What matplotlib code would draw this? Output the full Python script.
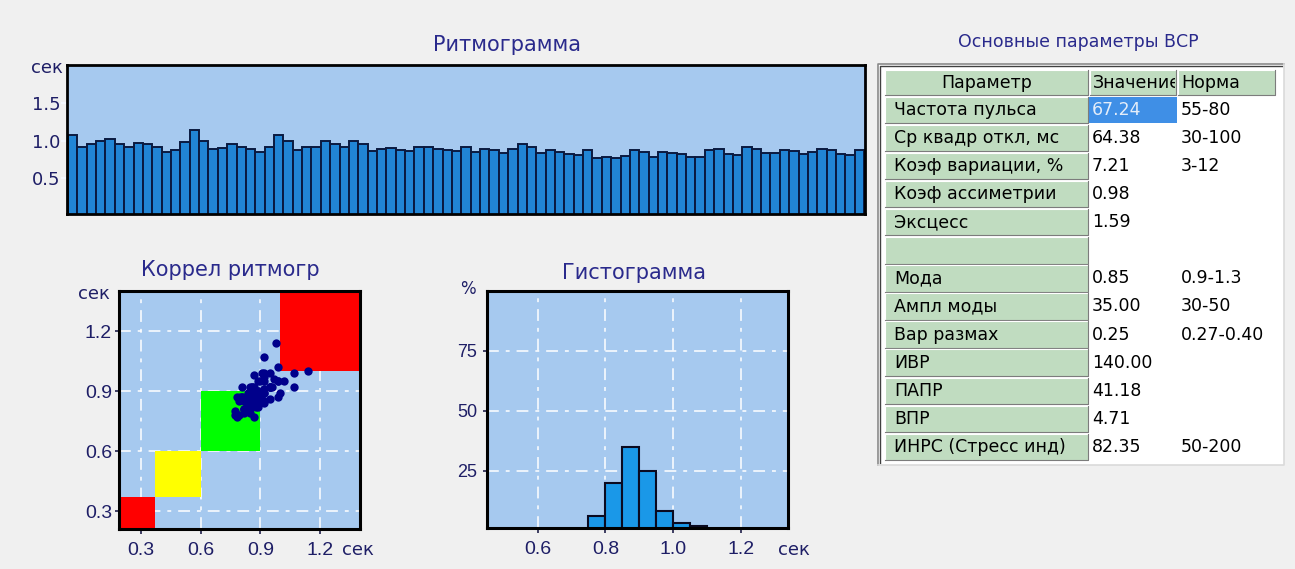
import matplotlib
matplotlib.use("Agg")
import matplotlib.pyplot as plt
from matplotlib.patches import Rectangle
from matplotlib.transforms import Bbox
import numpy as np

plt.rcParams['lines.scale_dashes'] = False

W, H, DPI = 1295, 569, 100

# ---------------- data ----------------
# RR intervals of the recording, seconds
rr_sec = [1.07, 0.92, 0.95, 0.99, 1.02, 0.95, 0.92, 0.97, 0.96, 0.92,
          0.85, 0.87, 0.98, 1.14, 1.00, 0.89, 0.90, 0.95, 0.92, 0.89,
          0.85, 0.92, 1.07, 0.99, 0.87, 0.92, 0.91, 0.99, 0.95, 0.92,
          0.99, 0.95, 0.86, 0.89, 0.90, 0.87, 0.86, 0.92, 0.91, 0.89,
          0.87, 0.86, 0.92, 0.85, 0.89, 0.88, 0.84, 0.89, 0.95, 0.92,
          0.84, 0.87, 0.85, 0.82, 0.81, 0.87, 0.77, 0.78, 0.77, 0.80,
          0.87, 0.85, 0.79, 0.85, 0.84, 0.82, 0.79, 0.78, 0.87, 0.89,
          0.82, 0.81, 0.92, 0.89, 0.84, 0.83, 0.87, 0.86, 0.82, 0.85,
          0.89, 0.88, 0.82, 0.81, 0.87]
rr_ticks = [0.5, 1.0, 1.5]

# correlation rhythmogram: zones on the diagonal
corr_ticks = [0.3, 0.6, 0.9, 1.2]
zone_lo = [0.0, 0.37, 0.6, 1.0]
zone_hi = [0.37, 0.6, 0.9, 2.0]
zone_colors = ['#ff0000', '#ffff00', '#00ff00', '#ff0000']

# histogram of RR intervals
hist_left = [0.75, 0.80, 0.85, 0.90, 0.95, 1.00, 1.05]
hist_pct = [6, 20, 35, 25, 8, 3, 2]
bin_width = 0.05
hist_xticks = [0.6, 0.8, 1.0, 1.2]
hist_yticks = [25, 50, 75]

# parameter table
table_header = ["Параметр", "Значение", "Норма"]
param_names = ["Частота пульса", "Ср квадр откл, мс", "Коэф вариации, %",
               "Коэф ассиметрии", "Эксцесс", "", "Мода", "Ампл моды",
               "Вар размах", "ИВР", "ПАПР", "ВПР", "ИНРС (Стресс инд)"]
param_values = ["67.24", "64.38", "7.21", "0.98", "1.59", "", "0.85", "35.00",
                "0.25", "140.00", "41.18", "4.71", "82.35"]
param_norms = ["55-80", "30-100", "3-12", "", "", "", "0.9-1.3", "30-50",
               "0.27-0.40", "", "", "", "50-200"]

# ---------------- style ----------------
FIG_BG = '#f0f0f0'
AX_BG = '#a6c9ef'
TITLE_C = '#2a2a8c'
TICK_C = '#1e1e66'
GREEN = '#c0dcc0'
SANS = 'DejaVu Sans'
NARROW = 'Liberation Sans'
GRID_DASH = (0, (8.5, 5, 2.8, 5))

fig = plt.figure(figsize=(W / DPI, H / DPI), dpi=DPI, facecolor=FIG_BG)


def px_axes(x0, y0, x1, y1):
    return fig.add_axes([x0 / W, 1 - y1 / H, (x1 - x0) / W, (y1 - y0) / H])


def px_text(x, y, s, **kw):
    return fig.text(x / W, 1 - y / H, s, **kw)


def frame(ax, lw=2.2):
    for sp in ax.spines.values():
        sp.set_color('black')
        sp.set_linewidth(lw)
        sp.set_zorder(5)


# ---------------- rhythmogram ----------------
ax_r = px_axes(67, 65, 865, 214)
ax_r.set_facecolor(AX_BG)
beats = np.arange(1, len(rr_sec) + 1)
ax_r.bar(beats, rr_sec, width=1.0, color='#2185d5', edgecolor='#0a1a40',
         linewidth=1.4)
ax_r.set_xlim(0.4, len(rr_sec) + 0.6)
ax_r.set_ylim(0.03, 2.0)
ax_r.set_xticks([])
ax_r.set_yticks(rr_ticks, [f'{v:.1f}' for v in rr_ticks], fontfamily=SANS)
ax_r.tick_params(axis='y', direction='out', length=4, width=1.6,
                 color='#f4f8ff', labelsize=13, labelcolor=TICK_C, pad=0.5)
frame(ax_r, 2.0)
px_text(63, 68, 'сек', ha='right', va='center', fontsize=13,
        color=TICK_C, family=SANS)
px_text(507, 45, 'Ритмограмма', ha='center', va='center', fontsize=15,
        color=TITLE_C, family=SANS)

# ---------------- correlation rhythmogram ----------------
ax_c = px_axes(119, 291, 360, 529)
ax_c.set_facecolor(AX_BG)
ax_c.set_xlim(0.19, 1.40)
ax_c.set_ylim(0.21, 1.40)
ax_c.set_axisbelow(True)
ax_c.grid(True, color='white', lw=1.1, linestyle=GRID_DASH)
for lo, hi, c in zip(zone_lo, zone_hi, zone_colors):
    ax_c.add_patch(Rectangle((lo, lo), hi - lo, hi - lo, fc=c, ec='none',
                             zorder=1))
ax_c.scatter(rr_sec[:-1], rr_sec[1:], s=36, c='#00008b', linewidths=0,
             zorder=3)
ax_c.set_xticks(corr_ticks, [f'{v:.1f}' for v in corr_ticks],
                fontfamily=NARROW)
ax_c.set_yticks(corr_ticks, [f'{v:.1f}' for v in corr_ticks],
                fontfamily=NARROW)
ax_c.tick_params(axis='x', length=3.5, width=1.2, color='#20204a',
                 labelsize=14, labelcolor=TICK_C, pad=6)
ax_c.tick_params(axis='y', length=3, width=1.2, color='#20204a',
                 labelsize=14, labelcolor=TICK_C, pad=2)
frame(ax_c)
px_text(110, 294, 'сек', ha='right', va='center', fontsize=13,
        color=TICK_C, family=SANS)
px_text(342, 550, 'сек', ha='left', va='center', fontsize=13,
        color=TICK_C, family=SANS)
px_text(230, 270, 'Коррел ритмогр', ha='center', va='center', fontsize=15,
        color=TITLE_C, family=SANS)

# ---------------- histogram ----------------
ax_h = px_axes(487, 291, 788, 528)
ax_h.set_facecolor(AX_BG)
ax_h.set_axisbelow(True)
ax_h.grid(True, color='white', lw=1.1, linestyle=GRID_DASH)
ax_h.bar(hist_left, hist_pct, width=bin_width, align='edge', color='#1a98e8',
         edgecolor='#0a0a20', linewidth=1.5, zorder=2)
ax_h.set_xlim(0.45, 1.34)
ax_h.set_ylim(1, 100)
ax_h.set_xticks(hist_xticks, [f'{v:.1f}' for v in hist_xticks],
                fontfamily=NARROW)
ax_h.set_yticks(hist_yticks, [str(v) for v in hist_yticks], fontfamily=NARROW)
ax_h.tick_params(axis='x', length=3.5, width=1.2, color='#20204a',
                 labelsize=14, labelcolor=TICK_C, pad=6)
ax_h.tick_params(axis='y', length=3, width=1.2, color='#20204a',
                 labelsize=13, labelcolor=TICK_C, pad=4)
frame(ax_h)
px_text(468, 289, '%', ha='center', va='center', fontsize=12,
        color=TICK_C, family=SANS)
px_text(778, 550, 'сек', ha='left', va='center', fontsize=13,
        color=TICK_C, family=SANS)
px_text(634, 273, 'Гистограмма', ha='center', va='center', fontsize=15,
        color=TITLE_C, family=SANS)

# ---------------- parameter table ----------------
tx = fig.add_axes([0, 0, 1, 1])
tx.set_xlim(0, W)
tx.set_ylim(H, 0)
tx.axis('off')

px_text(1078, 42, 'Основные параметры ВСР', ha='center', va='center',
        fontsize=12.5, color=TITLE_C, family=SANS)

col_x = [885, 1089, 1177, 1276]
head_top, head_bot = 70, 95
row_top0, row_pitch, row_h = 96.5, 28.1, 26.5
tbl_x0, tbl_y0, tbl_x1, tbl_y1 = 878, 64, 1284, 465

tx.add_patch(Rectangle((tbl_x0, tbl_y0), tbl_x1 - tbl_x0, tbl_y1 - tbl_y0,
                       fc='white', ec='none'))
tx.plot([tbl_x0, tbl_x0, tbl_x1], [tbl_y1, tbl_y0, tbl_y0], color='#8a8a8a',
        lw=1.2)
tx.plot([tbl_x0 + 2, tbl_x0 + 2, tbl_x1 - 2], [tbl_y1 - 2, tbl_y0 + 2, tbl_y0 + 2],
        color='#404040', lw=1.0)
tx.plot([tbl_x0, tbl_x1, tbl_x1], [tbl_y1, tbl_y1, tbl_y0], color='#dadada',
        lw=1.2)


def bevel_cell(x0, y0, x1, y1):
    tx.add_patch(Rectangle((x0, y0), x1 - x0, y1 - y0, fc=GREEN, ec='none'))
    tx.plot([x0, x0, x1], [y1, y0, y0], color='white', lw=0.8)
    tx.plot([x0, x1, x1], [y1, y1, y0], color='#7c7c7c', lw=0.8)


TABLE_FS = 12.5
for j in range(3):
    bevel_cell(col_x[j] + (1 if j else 0), head_top, col_x[j + 1] - 1, head_bot)
hy = (head_top + head_bot) / 2
tx.text((col_x[0] + col_x[1]) / 2, hy, table_header[0], ha='center',
        va='center', fontsize=TABLE_FS, family=SANS, color='black')
t_val = tx.text(col_x[1] + 4, hy, table_header[1], ha='left', va='center',
                fontsize=TABLE_FS, family=SANS, color='black')
t_val.set_clip_box(Bbox.from_extents(col_x[1], H - head_bot,
                                     col_x[2] - 2, H - head_top))
t_val.set_clip_on(True)
tx.text(col_x[2] + 4, hy, table_header[2], ha='left', va='center',
        fontsize=TABLE_FS, family=SANS, color='black')

for i, (name, val, norm) in enumerate(zip(param_names, param_values,
                                          param_norms)):
    top = row_top0 + i * row_pitch
    bevel_cell(col_x[0], top, col_x[1] - 1, top + row_h)
    yc = top + row_h / 2
    val_color = 'black'
    if i == 0:
        tx.add_patch(Rectangle((col_x[1], top), col_x[2] - col_x[1], row_h,
                               fc='#3f8fe6', ec='none'))
        val_color = '#e4edf9'
    tx.text(col_x[0] + 9, yc, name, ha='left', va='center',
            fontsize=TABLE_FS, family=SANS, color='black')
    tx.text(col_x[1] + 3, yc, val, ha='left', va='center',
            fontsize=TABLE_FS, family=SANS, color=val_color)
    tx.text(col_x[2] + 4, yc, norm, ha='left', va='center',
            fontsize=TABLE_FS, family=SANS, color='black')

fig.savefig('out.png', dpi=DPI, facecolor=fig.get_facecolor())
